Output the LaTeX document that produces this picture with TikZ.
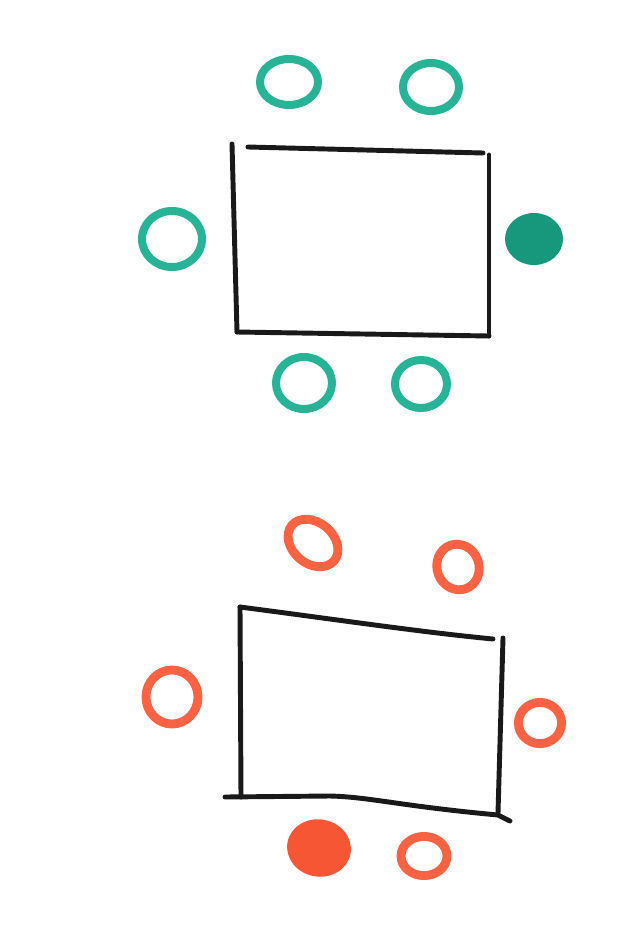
\documentclass[tikz,border=0pt]{standalone}
\usepackage{xcolor}
\usetikzlibrary{shapes.geometric, positioning}

\definecolor{tealpen}{HTML}{27B396}
\definecolor{tealdark}{HTML}{17977C}
\definecolor{redpen}{HTML}{F96242}
\definecolor{reddark}{HTML}{F65634}

\begin{document}
\begin{tikzpicture}[
  x=0.025cm, y=-0.025cm,
  greenchair/.style={ellipse, draw=tealpen, line width=5.7pt, inner sep=0pt},
  greentaken/.style={ellipse, fill=tealdark, inner sep=0pt},
  redchair/.style={ellipse, draw=redpen, line width=6.3pt, inner sep=0pt},
  redtaken/.style={ellipse, fill=reddark, inner sep=0pt},
  tableedge/.style={line width=3.5pt, line cap=round, black!90}
]
  \useasboundingbox[fill=white] (0,0) rectangle (619,928);

  % first table
  \coordinate (a1) at (232,144);
  \coordinate (a2) at (489,155);
  \coordinate (a3) at (489,336);
  \coordinate (a4) at (237,332);
  \draw[tableedge] (a1) -- (a4);
  \draw[tableedge] (248,147) -- (483,153);
  \draw[tableedge] (a2) -- (a3);
  \draw[tableedge] (a4) -- (a3);

  \node[greenchair, minimum width=1.45cm, minimum height=1.15cm] (g1) at (289,82) {};
  \node[greenchair, minimum width=1.4cm, minimum height=1.2cm]   (g2) at (431,87) {};
  \node[greenchair, minimum width=1.5cm, minimum height=1.4cm]   (g3) at (172,239) {};
  \node[greentaken, minimum width=1.45cm, minimum height=1.3cm]  (g4) at (534,239) {};
  \node[greenchair, minimum width=1.4cm, minimum height=1.3cm]   (g5) at (304,383) {};
  \node[greenchair, minimum width=1.3cm, minimum height=1.2cm]   (g6) at (421,384) {};

  % second table
  \coordinate (b1) at (240,607);
  \coordinate (b2) at (493,639);
  \coordinate (b3) at (503,638);
  \coordinate (b4) at (498,813);
  \coordinate (b5) at (241,797);
  \draw[tableedge] (b1) -- (b5);
  \draw[tableedge] (b1) .. controls (340,620) and (420,632) .. (b2);
  \draw[tableedge] (b3) -- (b4);
  \draw[tableedge] (225,797) -- (330,796) .. controls (370,797) and (400,806) .. (498,815) -- (510,821);

  \node[redchair, minimum width=1.38cm, minimum height=1.03cm, rotate=-40] (r1) at (313,543) {};
  \node[redchair, minimum width=1.05cm, minimum height=1.15cm, rotate=20]  (r2) at (458,567) {};
  \node[redchair, minimum width=1.3cm, minimum height=1.35cm]              (r3) at (172,697) {};
  \node[redchair, minimum width=1.08cm, minimum height=1.03cm]             (r4) at (540,723) {};
  \node[redtaken, minimum width=1.6cm, minimum height=1.43cm, rotate=-10]  (r5) at (319,848) {};
  \node[redchair, minimum width=1.15cm, minimum height=0.98cm]             (r6) at (424,856) {};
\end{tikzpicture}
\end{document}
